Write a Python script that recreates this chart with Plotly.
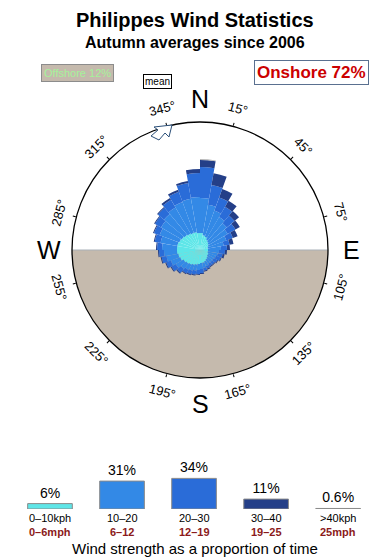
import math
import plotly.graph_objects as go

# ---------------- data ----------------
# direction sectors (centre of 10-degree bins, clockwise from north)
directions = [5 + 10 * k for k in range(36)]

# stacked rose layers (relative frequency, arbitrary radial units)
calm_0_10 = [17, 15, 14, 12, 11, 10, 9, 8, 8, 8, 8, 9, 9, 10, 11, 12, 13, 13,
             14, 15, 16, 17, 18, 19, 21, 22, 23, 23, 23, 22, 21, 20, 19, 18, 18, 17]
cum_10_20 = [52, 46, 42, 38, 35, 32, 28, 24, 21, 19, 18, 17, 16, 16, 16, 17, 18, 19,
             20, 21, 22, 23, 25, 28, 31, 34, 36, 38, 40, 43, 45, 47, 49, 51, 52, 53]
cum_20_30 = [83, 66, 56, 50, 45, 41, 35, 30, 27, 25, 23, 22, 20, 19, 19, 20, 21, 23,
             24, 25, 26, 27, 30, 33, 36, 39, 41, 43, 46, 49, 52, 55, 58, 62, 68, 77]
navy_30_40 = [7, 12, 9, 7, 6, 5, 5, 4, 3, 2, 2, 1, 1, 1, 1, 1, 1, 1,
              1, 1, 1, 1, 1, 1, 1, 1, 1, 1, 1, 1, 1, 1, 2, 2, 2, 4]
grey_40 = [1, 0, 0, 0, 0, 0, 0, 0, 0, 0, 0, 0, 0, 0, 0, 0, 0, 0,
           0, 0, 0, 0, 0, 0, 0, 0, 0, 0, 0, 0, 0, 0, 0, 0, 0, 0]

layer_10_20 = [b - a for a, b in zip(calm_0_10, cum_10_20)]
layer_20_30 = [b - a for a, b in zip(cum_10_20, cum_20_30)]

angle_ticks = [15, 45, 75, 105, 135, 165, 195, 225, 255, 285, 315, 345]
compass = ["N", "E", "S", "W"]
compass_angles = [0, 90, 180, 270]

speed_bins_kph = ["0–10kph", "10–20", "20–30", "30–40", ">40kph"]
speed_bins_mph = ["0–6mph", "6–12", "12–19", "19–25", "25mph"]
speed_share = [6, 31, 34, 11, 0.6]
speed_share_text = ["6%", "31%", "34%", "11%", "0.6%"]

colors = ["#5ee6e8", "#3389e6", "#2a6cd8", "#243f88", "#b8b8b8"]
R_MAX = 128
TAN = "#c5baad"
FONT = "Liberation Sans"

# ---------------- geometry (pixels) ----------------
W, H = 390, 560
CX, CY, CR = 200, 250, 128


def px(x):
    return x / W


def py(y):
    return 1 - y / H


fig = go.Figure()

layers = [calm_0_10, layer_10_20, layer_20_30, navy_30_40, grey_40]
for vals, col in zip(layers, colors):
    fig.add_trace(go.Barpolar(
        r=vals, theta=directions, width=[10] * len(directions),
        marker=dict(color=col, line=dict(width=0)),
        showlegend=False, hoverinfo="skip"))

# legend bar chart
fig.add_trace(go.Bar(
    x=list(range(len(speed_share))), y=speed_share, width=0.62,
    marker=dict(color=colors, line=dict(color="#8a8a8a", width=1)),
    text=speed_share_text, textposition="outside", cliponaxis=False,
    textfont=dict(size=14, color="black", family=FONT),
    xaxis="x", yaxis="y", showlegend=False, hoverinfo="skip"))


def ann(x, y, text, size, color="black", **kw):
    d = dict(x=px(x), y=py(y), xref="paper", yref="paper", text=text,
             showarrow=False, xanchor="center", yanchor="middle",
             font=dict(size=size, color=color, family=FONT))
    d.update(kw)
    return d


annotations = []
# rotated degree labels
for a in angle_ticks:
    rad = math.radians(a)
    x = CX + 146 * math.sin(rad)
    y = CY - 146 * math.cos(rad)
    ang = a if (a < 90 or a > 270) else a - 180
    if ang > 180:
        ang -= 360
    annotations.append(ann(x, y, f"{a}°", 13, textangle=ang))
# compass letters
for lab, a in zip(compass, compass_angles):
    rad = math.radians(a)
    dist = 151 if a != 180 else 154
    x = CX + dist * math.sin(rad)
    y = CY - dist * math.cos(rad)
    annotations.append(ann(x, y, lab, 25))

# titles and boxes
annotations += [
    ann(195, 20, "<b>Philippes Wind Statistics</b>", 20),
    ann(195, 43, "<b>Autumn averages since 2006</b>", 16),
    ann(77, 73, "Offshore 12%", 11, "#a6f29a",
        bgcolor=TAN, bordercolor="#8c8c8c", borderwidth=1, borderpad=2),
    ann(157, 81, "mean", 10, bgcolor="white", bordercolor="black",
        borderwidth=1, borderpad=1),
    ann(311, 73, "<b>Onshore 72%</b>", 17, "#cc0000",
        bgcolor="white", bordercolor="#5a7090", borderwidth=1, borderpad=2),
    ann(195, 548, "Wind strength as a proportion of time", 15),
]
for i, (k, m) in enumerate(zip(speed_bins_kph, speed_bins_mph)):
    annotations.append(dict(x=i, y=py(518), xref="x", yref="paper", text=k,
                            showarrow=False, xanchor="center", yanchor="middle",
                            font=dict(size=11, color="black", family=FONT)))
    annotations.append(dict(x=i, y=py(532), xref="x", yref="paper", text=f"<b>{m}</b>",
                            showarrow=False, xanchor="center", yanchor="middle",
                            font=dict(size=11, color="#8b1a1a", family=FONT)))

# offshore shading: lower half-disk of the compass, drawn beneath the rose
arc = []
for t in range(90, 271, 2):
    rad = math.radians(t)
    arc.append((CX + CR * math.sin(rad), CY - CR * math.cos(rad)))
half = "M " + " L ".join(f"{px(x):.5f},{py(y):.5f}" for x, y in arc) + " Z"

# mean direction arrow (outline)
arrow_pts = [(151, 136), (158, 130), (154, 127), (172, 125), (169, 137), (165, 133), (159, 140)]
arrow = "M " + " L ".join(f"{px(x):.4f},{py(y):.4f}" for x, y in arrow_pts) + " Z"

shapes = [
    dict(type="path", path=half, xref="paper", yref="paper",
         line=dict(width=0), fillcolor=TAN, layer="below"),
    dict(type="line", x0=px(CX - CR), x1=px(CX + CR), y0=py(CY), y1=py(CY),
         xref="paper", yref="paper", line=dict(color="#a9b0b8", width=1), layer="below"),
    dict(type="path", path=arrow, xref="paper", yref="paper",
         line=dict(color="#2b4f78", width=1), fillcolor="white", layer="above"),
]

fig.update_layout(
    width=W, height=H, margin=dict(l=0, r=0, t=0, b=0),
    paper_bgcolor="white", plot_bgcolor="rgba(0,0,0,0)",
    font=dict(family=FONT),
    polar=dict(
        domain=dict(x=[px(CX - CR), px(CX + CR)], y=[py(CY + CR), py(CY - CR)]),
        bgcolor="rgba(0,0,0,0)", barmode="stack", hole=0,
        radialaxis=dict(range=[0, R_MAX], visible=False),
        angularaxis=dict(rotation=90, direction="clockwise", showgrid=False,
                         showline=True, linecolor="black", linewidth=1.3,
                         tickvals=angle_ticks, ticks="outside", ticklen=3,
                         tickcolor="black", showticklabels=False),
    ),
    xaxis=dict(domain=[0, 1], range=[-0.694, 4.72], visible=False, fixedrange=True),
    yaxis=dict(domain=[py(509), py(460)], range=[0, 54.4], visible=False, fixedrange=True),
    annotations=annotations, shapes=shapes, showlegend=False,
)

fig.write_html("out.html")
